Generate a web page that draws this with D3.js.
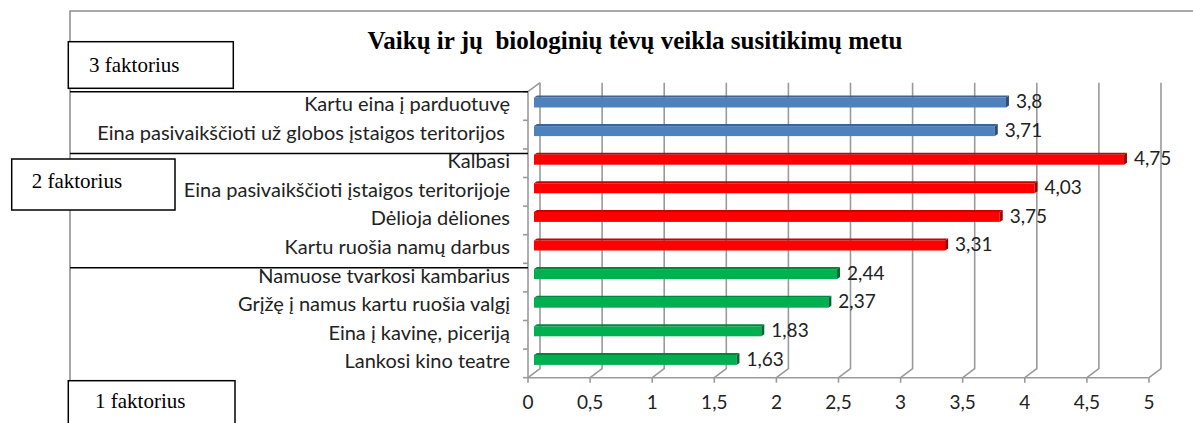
<!DOCTYPE html>
<html>
<head>
<meta charset="utf-8">
<script src="https://cdn.jsdelivr.net/npm/d3@7"></script>
<style>
  body { margin: 0; background: #fff; }
  svg { display: block; }
  text { white-space: pre; }
</style>
</head>
<body>
<div id="chart"></div>
<script>
// chart data
var categories = [
  "Kartu eina į parduotuvę",
  "Eina pasivaikščioti už globos įstaigos teritorijos ",
  "Kalbasi",
  "Eina pasivaikščioti įstaigos teritorijoje",
  "Dėlioja dėliones",
  "Kartu ruošia namų darbus",
  "Namuose tvarkosi kambarius",
  "Grįžę į namus kartu ruošia valgį",
  "Eina į kavinę, piceriją",
  "Lankosi kino teatre"
];
var values = [3.8, 3.71, 4.75, 4.03, 3.75, 3.31, 2.44, 2.37, 1.83, 1.63];
var factor = [3, 3, 2, 2, 2, 2, 1, 1, 1, 1];
var tickValues = [0, 0.5, 1, 1.5, 2, 2.5, 3, 3.5, 4, 4.5, 5];
var title = "Vaikų ir jų  biologinių tėvų veikla susitikimų metu";

// colours per factor: [front, top, side]
var colors = {
  3: ["#4f81bd", "#3b6597", "#2c4d75"],
  2: ["#ff0000", "#c80000", "#a00000"],
  1: ["#00b050", "#00853c", "#006b30"]
};

var W = 1193, H = 423;
var svg = d3.select("#chart").append("svg")
    .attr("width", W)
    .attr("height", H);

// 3d depth offset of back wall
var depth = {dx: 12, dy: -9};

var x = d3.scaleLinear().domain([0, 5]).range([528, 1149]);
var y = d3.scaleBand().domain(categories).range([91.7, 377.7]).paddingInner(0).paddingOuter(0);
var barH = 12;

var gridColor = "#9a9a9a";

// outer chart frame (only top + left visible)
svg.append("path")
    .attr("d", "M70," + H + "V11H" + W)
    .attr("fill", "none")
    .attr("stroke", "#8c8c8c")
    .attr("stroke-width", 1.5);

// title
svg.append("text")
    .attr("x", 635)
    .attr("y", 49)
    .attr("text-anchor", "middle")
    .style("font-family", "'Liberation Serif', 'Times New Roman', serif")
    .style("font-weight", "bold")
    .style("font-size", "25px")
    .text(title);

var y0 = y.range()[0], y1 = y.range()[1];

// back wall gridlines + floor
var grid = svg.append("g");
tickValues.forEach(function(v) {
  var xf = x(v), xb = x(v) + depth.dx;
  grid.append("path")
    .attr("d", "M" + xb + "," + (y0 + depth.dy) + "V" + (y1 + depth.dy) + "L" + xf + "," + y1)
    .attr("fill", "none")
    .attr("stroke", gridColor)
    .attr("stroke-width", 1.6);
  // tick marks
  grid.append("line")
    .attr("x1", xf).attr("x2", xf)
    .attr("y1", y1).attr("y2", y1 + 5)
    .attr("stroke", gridColor).attr("stroke-width", 1.6);
});
// front floor edge
grid.append("line")
  .attr("x1", x(0)).attr("x2", x(5))
  .attr("y1", y1).attr("y2", y1)
  .attr("stroke", gridColor).attr("stroke-width", 1.6);
// left wall front edge + top diagonal
grid.append("path")
  .attr("d", "M" + x(0) + "," + y1 + "V" + y0 + "L" + (x(0) + depth.dx) + "," + (y0 + depth.dy))
  .attr("fill", "none")
  .attr("stroke", gridColor).attr("stroke-width", 1.6);
// category ticks
d3.range(categories.length + 1).forEach(function(i) {
  var yy = y0 + i * y.step();
  grid.append("line")
    .attr("x1", x(0) - 5).attr("x2", x(0))
    .attr("y1", yy).attr("y2", yy)
    .attr("stroke", gridColor).attr("stroke-width", 1.6);
});

// bars (drawn at mid depth)
var data = categories.map(function(c, i) { return {name: c, value: values[i], f: factor[i]}; });
var bd = 3, bt = 2;  // bar's own depth
var bars = svg.append("g").selectAll("g").data(data).enter().append("g")
    .attr("transform", function(d) {
      return "translate(" + (depth.dx / 2) + "," + (y(d.name) + y.step() / 2 + depth.dy / 2 - barH / 2) + ")";
    });

bars.append("rect")
    .attr("x", function(d) { return x(0); })
    .attr("y", bt)
    .attr("width", function(d) { return x(d.value) - x(0); })
    .attr("height", barH - bt)
    .attr("fill", function(d) { return colors[d.f][0]; });
bars.append("path")
    .attr("d", function(d) {
      var a = x(0), b = x(d.value);
      return "M" + a + "," + bt + "L" + (a + bd) + ",0H" + (b + bd) + "L" + b + "," + bt + "Z";
    })
    .attr("fill", function(d) { return colors[d.f][1]; });
bars.append("path")
    .attr("d", function(d) {
      var b = x(d.value);
      return "M" + b + "," + bt + "L" + (b + bd) + ",0V" + (barH - bt) + "L" + b + "," + barH + "Z";
    })
    .attr("fill", function(d) { return colors[d.f][2]; });

// value labels
bars.append("text")
    .attr("x", function(d) { return x(d.value) + 10; })
    .attr("y", barH / 2)
    .attr("dy", "0.35em")
    .style("font-family", "Lato, 'Open Sans', sans-serif")
    .style("font-size", "19px")
    .attr("fill", "#222")
    .text(function(d) { return String(d.value).replace(".", ","); });

// category labels
svg.append("g").selectAll("text").data(categories).enter().append("text")
    .attr("x", 510)
    .attr("y", function(d) { return y(d) + y.step() / 2 - 2; })
    .attr("dy", "0.35em")
    .attr("text-anchor", "end")
    .style("font-family", "Lato, 'Open Sans', sans-serif")
    .style("font-size", "20px")
    .attr("fill", "#222")
    .text(function(d) { return d; });

// x tick labels
svg.append("g").selectAll("text").data(tickValues).enter().append("text")
    .attr("x", function(d) { return x(d); })
    .attr("y", 402)
    .attr("dy", "0.35em")
    .attr("text-anchor", "middle")
    .style("font-family", "Lato, 'Open Sans', sans-serif")
    .style("font-size", "19px")
    .attr("fill", "#222")
    .text(function(d) { return String(d).replace(".", ","); });

// factor bracket lines
[91.7, 153.5, 267.7].forEach(function(yy) {
  svg.append("line")
    .attr("x1", 70).attr("x2", x(0))
    .attr("y1", yy).attr("y2", yy)
    .attr("stroke", "#000").attr("stroke-width", 1.5);
});

// factor boxes
var boxes = [
  {label: "3 faktorius", x: 68.3, y: 41.7, w: 165, h: 46.6, tx: 89, ty: 72},
  {label: "2 faktorius", x: 11.7, y: 159, w: 163.3, h: 51, tx: 31.7, ty: 188},
  {label: "1 faktorius", x: 68.3, y: 380.7, w: 166.7, h: 50, tx: 95, ty: 408}
];
var bx = svg.append("g").selectAll("g").data(boxes).enter().append("g");
bx.append("rect")
    .attr("x", function(d) { return d.x; })
    .attr("y", function(d) { return d.y; })
    .attr("width", function(d) { return d.w; })
    .attr("height", function(d) { return d.h; })
    .attr("fill", "#fff")
    .attr("stroke", "#000")
    .attr("stroke-width", 1.5);
bx.append("text")
    .attr("x", function(d) { return d.tx; })
    .attr("y", function(d) { return d.ty; })
    .style("font-family", "'Liberation Serif', 'Times New Roman', serif")
    .style("font-size", "21px")
    .text(function(d) { return d.label; });
</script>
</body>
</html>
